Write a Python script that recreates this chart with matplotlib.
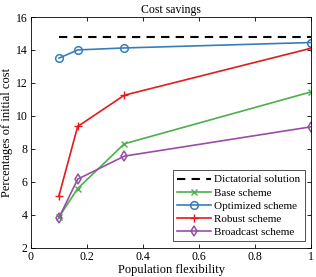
import numpy as np
from matplotlib import pyplot as plt

plt.rcParams['font.family'] = ['Liberation Serif', 'DejaVu Serif']
plt.rcParams['mathtext.fontset'] = 'stix'

flex = [0.1, 1/6, 1/3, 1.0]
dictatorial = [14.78, 14.78]
base = [3.85, 5.58, 8.3, 11.45]
optimized = [13.5, 14.0, 14.12, 14.45]
robust = [5.15, 9.35, 11.25, 14.1]
broadcast = [3.82, 6.15, 7.55, 9.33]

fig = plt.figure(figsize=(3.16, 2.77), dpi=100)
ax = fig.add_axes([31/316, 1 - 247.5/277, 280/316, 230.5/277])

ax.plot([0.1, 1.0], dictatorial, 'k--', lw=1.5, dashes=(4, 3), label='Dictatorial solution')
ax.plot(flex, base, '-x', color='#4daf4a', lw=1.2, ms=4, mew=1.0, label='Base scheme')
ax.plot(flex, optimized, '-o', color='#377eb8', lw=1.2, ms=5.5, mew=1.1, mfc='none', label='Optimized scheme')
ax.plot(flex, robust, '-+', color='#e41a1c', lw=1.2, ms=6, mew=1.0, label='Robust scheme')
ax.plot(flex, broadcast, '-d', color='#984ea3', lw=1.2, ms=5.5, mew=1.1, mfc='none', label='Broadcast scheme')

ax.set_xlim(0, 1)
ax.set_ylim(2, 16)
ax.set_xticks([0, 0.2, 0.4, 0.6, 0.8, 1])
ax.set_xticklabels(['0', '0.2', '0.4', '0.6', '0.8', '1'])
ax.set_yticks(range(2, 17, 2))
ax.tick_params(direction='in', top=True, right=True, labelsize=8.5, length=3, width=0.6, pad=2.5)
for s in ax.spines.values():
    s.set_linewidth(0.6)

ax.set_title('Cost savings', fontsize=8.5, pad=3)
ax.set_xlabel('Population flexibility', fontsize=9, labelpad=1)
ax.set_ylabel('Percentages of initial cost', fontsize=9, labelpad=2)

leg = ax.legend(loc='lower right', fontsize=8, fancybox=False, edgecolor='#333333',
                framealpha=1, borderpad=0.4, labelspacing=0.3, handlelength=3.0,
                handletextpad=0.33, borderaxespad=0.55)
leg.get_frame().set_linewidth(0.6)

fig.savefig('out.png', dpi=100)
